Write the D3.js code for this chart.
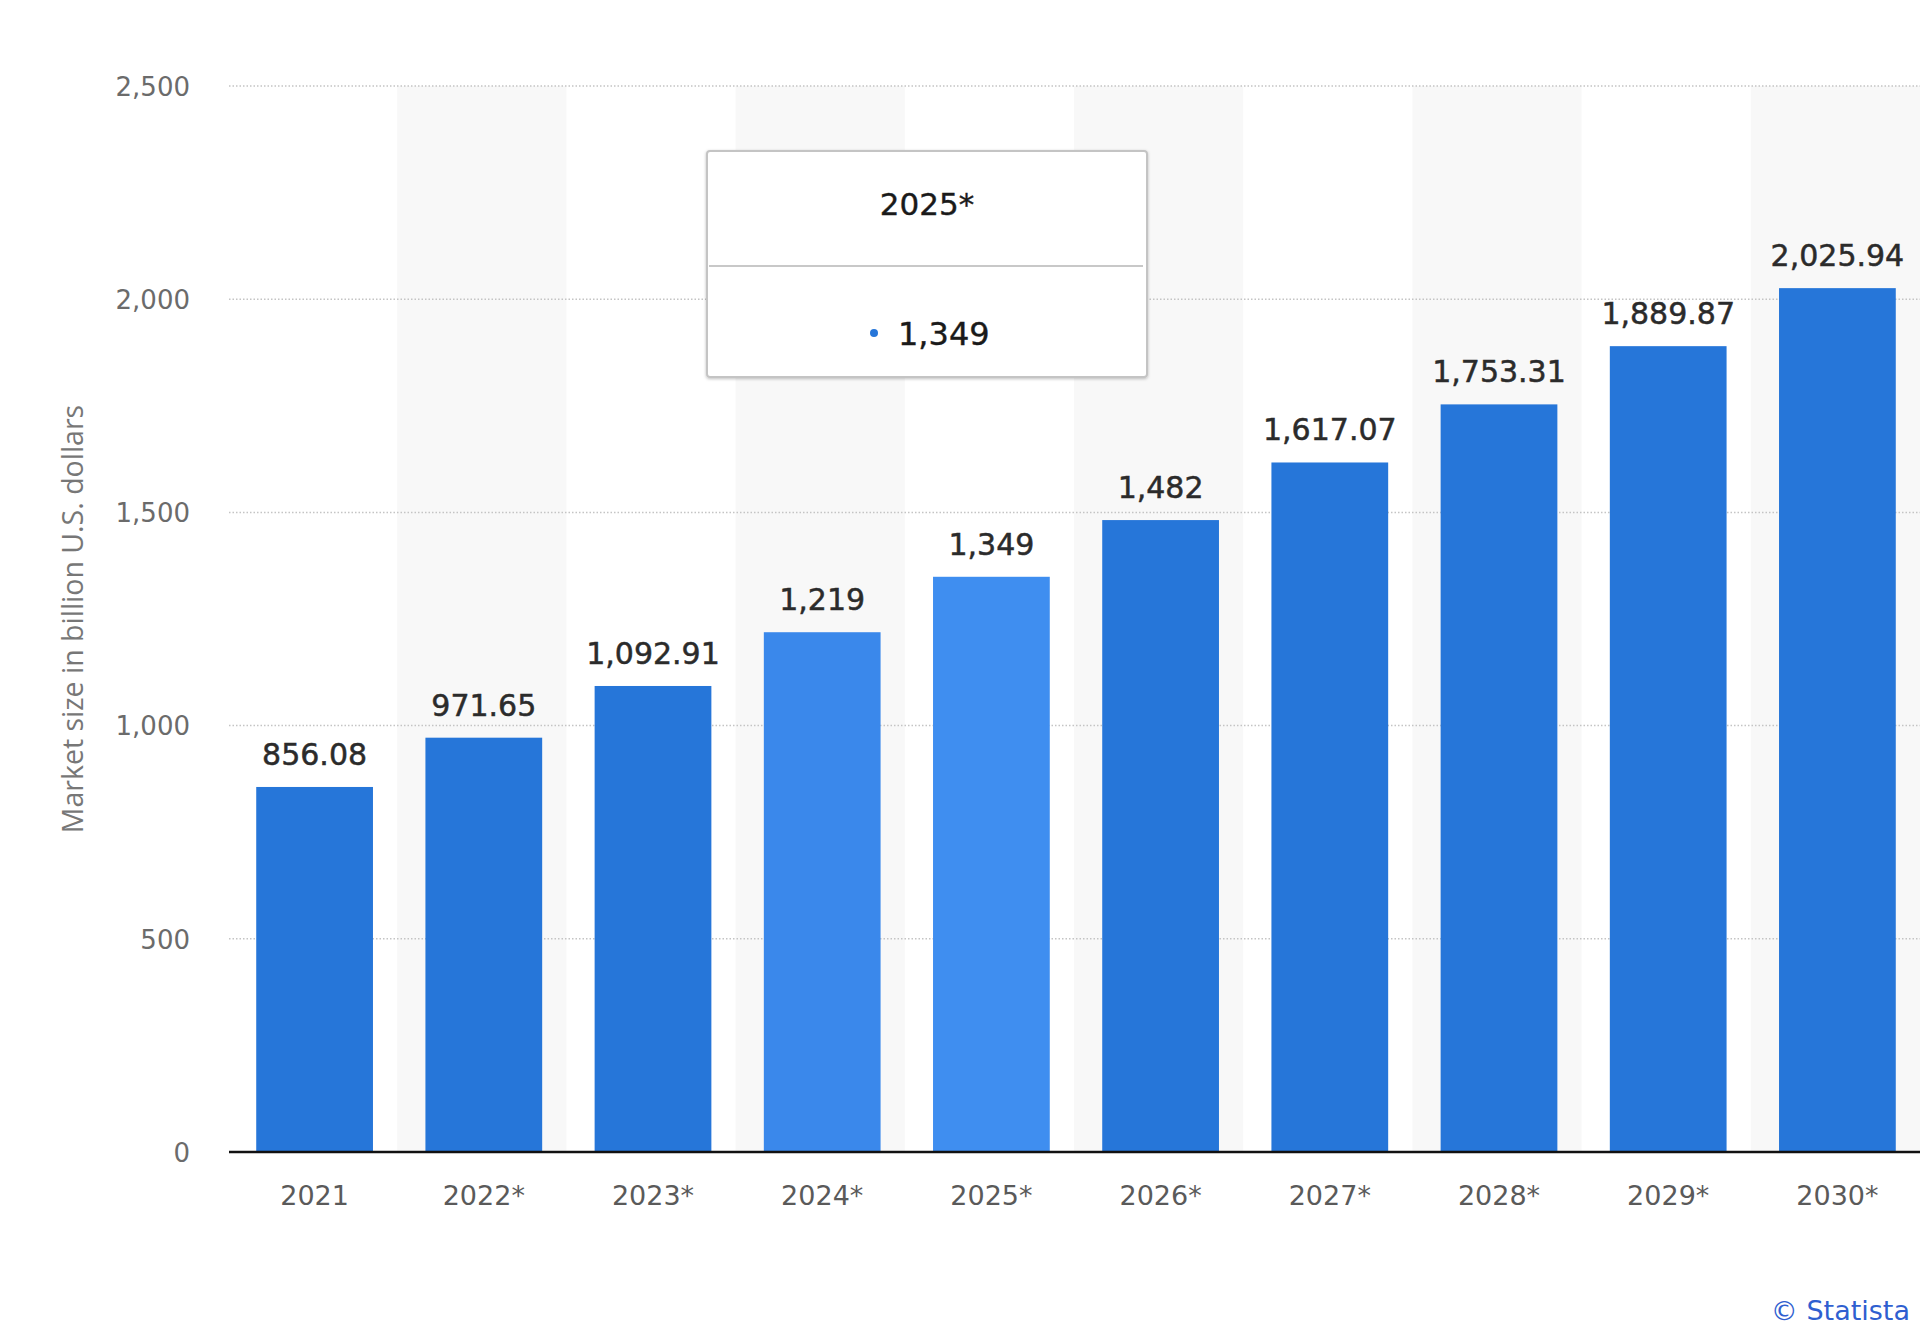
<!DOCTYPE html>
<html>
<head>
<meta charset="utf-8">
<script src="https://cdn.jsdelivr.net/npm/d3@7"></script>
<style>
  html, body { margin: 0; padding: 0; background: #fff; }
  svg { display: block; }
</style>
</head>
<body>
<svg id="chart" width="1920" height="1337"></svg>
<script>
const categories = ["2021", "2022*", "2023*", "2024*", "2025*", "2026*", "2027*", "2028*", "2029*", "2030*"];
const values = [856.08, 971.65, 1092.91, 1219, 1349, 1482, 1617.07, 1753.31, 1889.87, 2025.94];
const yTicks = [0, 500, 1000, 1500, 2000, 2500];
const yTitle = "Market size in billion U.S. dollars";
const highlighted = ["2024*", "2025*"];
const tooltipCategory = "2025*";
const creditText = "© Statista";

const svg = d3.select("#chart");
const W = 1920, H = 1337;
svg.append("rect").attr("width", W).attr("height", H).attr("fill", "#fff");

const x = d3.scaleBand().domain(categories).range([230, 1922]).paddingInner(0.31).paddingOuter(0.155);
const y = d3.scaleLinear().domain([0, 2500]).range([1152, 86]);

const fmt = d3.format(",");

// alternating stripes
svg.append("g").selectAll("rect")
  .data(categories.filter((d, i) => i % 2 === 1))
  .join("rect")
  .attr("x", d => x(d) - x.step() * x.paddingInner() / 2 - 2)
  .attr("y", y(2500))
  .attr("width", x.step())
  .attr("height", y(0) - y(2500))
  .attr("fill", "#f8f8f8");

// y axis labels
const yAxis = d3.axisLeft(y).tickValues(yTicks).tickFormat(fmt).tickSize(0).tickPadding(0);
const gy = svg.append("g").attr("transform", "translate(190,0)").call(yAxis);
gy.select(".domain").remove();
gy.selectAll("text")
  .attr("font-family", "DejaVu Sans")
  .attr("font-size", 26)
  .attr("fill", "#6b6b6b")
  .attr("dy", "0.36em");

// grid lines
svg.append("g").selectAll("line")
  .data(yTicks.filter(d => d > 0))
  .join("line")
  .attr("x1", 229).attr("x2", W)
  .attr("y1", d => y(d)).attr("y2", d => y(d))
  .attr("stroke", "#c4c4c4")
  .attr("stroke-width", 1.5)
  .attr("stroke-dasharray", "1.5,2");

// bars
svg.append("g").selectAll("rect")
  .data(categories)
  .join("rect")
  .attr("x", d => x(d))
  .attr("y", (d, i) => y(values[i]))
  .attr("width", x.bandwidth())
  .attr("height", (d, i) => y(0) - y(values[i]))
  .attr("fill", d => d === "2025*" ? "#3f8ef0" : (highlighted.includes(d) ? "#3a88eb" : "#2676d9"));

// value labels
svg.append("g").selectAll("text")
  .data(categories)
  .join("text")
  .attr("x", d => x(d) + x.bandwidth() / 2)
  .attr("y", (d, i) => y(values[i]) - 22)
  .attr("text-anchor", "middle")
  .attr("font-family", "DejaVu Sans")
  .attr("font-size", 30)
  .attr("fill", "#2b2b2b")
  .attr("stroke", "#2b2b2b")
  .attr("stroke-width", 0.5)
  .text((d, i) => fmt(values[i]));

// x axis
const xAxis = d3.axisBottom(x).tickSize(0).tickPadding(0);
const gx = svg.append("g").attr("transform", `translate(0,${y(0)})`).call(xAxis);
gx.select(".domain").remove();
gx.selectAll("text")
  .attr("font-family", "DejaVu Sans")
  .attr("font-size", 27)
  .attr("fill", "#5a5a5a")
  .attr("y", 53)
  .attr("dy", 0);

svg.append("line")
  .attr("x1", 229).attr("x2", W)
  .attr("y1", y(0)).attr("y2", y(0))
  .attr("stroke", "#111")
  .attr("stroke-width", 2.5);

// y title
svg.append("text")
  .attr("transform", "translate(83,619) rotate(-90)")
  .attr("text-anchor", "middle")
  .attr("font-family", "Open Sans")
  .attr("font-size", 28.5)
  .attr("fill", "#777")
  .text(yTitle);

// tooltip
const ti = categories.indexOf(tooltipCategory);
const tip = svg.append("g");
const defs = svg.append("defs");
const f = defs.append("filter").attr("id", "sh").attr("x", "-10%").attr("y", "-10%").attr("width", "120%").attr("height", "130%");
f.append("feDropShadow").attr("dx", 0).attr("dy", 1).attr("stdDeviation", 1.5).attr("flood-color", "#000").attr("flood-opacity", 0.25);
tip.append("rect")
  .attr("x", 707).attr("y", 151).attr("width", 440).attr("height", 226)
  .attr("rx", 3)
  .attr("fill", "#fff")
  .attr("stroke", "#c4c4c4")
  .attr("stroke-width", 2)
  .attr("filter", "url(#sh)");
tip.append("line")
  .attr("x1", 709).attr("x2", 1143).attr("y1", 266).attr("y2", 266)
  .attr("stroke", "#c8c8c8").attr("stroke-width", 2);
tip.append("text")
  .attr("x", 927).attr("y", 215)
  .attr("text-anchor", "middle")
  .attr("font-family", "DejaVu Sans")
  .attr("font-size", 31)
  .attr("fill", "#1a1a1a")
  .attr("stroke", "#1a1a1a")
  .attr("stroke-width", 0.4)
  .text(categories[ti]);
tip.append("circle")
  .attr("cx", 874).attr("cy", 333).attr("r", 4)
  .attr("fill", "#2676d9");
tip.append("text")
  .attr("x", 898).attr("y", 345)
  .attr("font-family", "DejaVu Sans")
  .attr("font-size", 32)
  .attr("fill", "#1a1a1a")
  .attr("stroke", "#1a1a1a")
  .attr("stroke-width", 0.4)
  .text(fmt(values[ti]));

// credit
svg.append("text")
  .attr("x", 1910).attr("y", 1320)
  .attr("text-anchor", "end")
  .attr("font-family", "DejaVu Sans")
  .attr("font-size", 27)
  .attr("fill", "#2f5fd0")
  .text(creditText);
</script>
</body>
</html>
